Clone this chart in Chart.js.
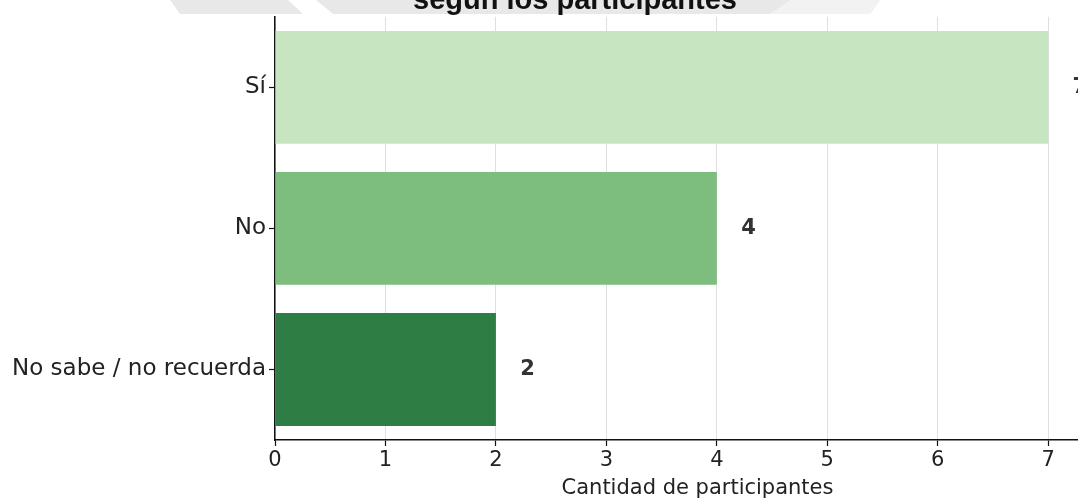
<!DOCTYPE html>
<html lang="es">
<head>
<meta charset="utf-8">
<title>Cantidad de participantes</title>
<script src="https://cdn.jsdelivr.net/npm/chart.js@4.4.1/dist/chart.umd.min.js"></script>
<style>
  html, body { margin: 0; padding: 0; background: #fff; overflow: hidden; }
  #chart { display: block; }
</style>
</head>
<body>
<canvas id="chart" width="1120" height="502"></canvas>
<script>
// Respuestas y cantidad de participantes
const categories = ['Sí', 'No', 'No sabe / no recuerda'];
const counts = [7, 4, 2];
const barColors = ['#c8e5c2', '#7dbd7e', '#2e7d44'];
const titleText = 'según los participantes';
const xTitle = 'Cantidad de participantes';

const FONT = "'DejaVu Sans', sans-serif";

// faint band behind the title
const bandPlugin = {
    id: 'band',
    beforeDraw(chart) {
        const ctx = chart.ctx;
        ctx.save();
        ctx.fillStyle = '#e8e8e8';
        ctx.beginPath();
        ctx.moveTo(170, 0); ctx.lineTo(880, 0); ctx.lineTo(870, 14); ctx.lineTo(180, 14);
        ctx.closePath();
        ctx.fill();
        // white diagonal gap
        ctx.fillStyle = '#ffffff';
        ctx.beginPath();
        ctx.moveTo(288, 0); ctx.lineTo(316, 0); ctx.lineTo(333, 14); ctx.lineTo(303, 14);
        ctx.closePath();
        ctx.fill();
        ctx.fillStyle = '#f2f2f2';
        ctx.beginPath();
        ctx.moveTo(790, 0); ctx.lineTo(880, 0); ctx.lineTo(870, 14); ctx.lineTo(770, 14);
        ctx.closePath();
        ctx.fill();
        ctx.restore();
    },
    afterDraw(chart) {
        const ctx = chart.ctx;
        ctx.save();
        ctx.font = "bold 29px 'Liberation Sans', Arial, sans-serif";
        ctx.fillStyle = '#111';
        ctx.textAlign = 'center';
        ctx.textBaseline = 'alphabetic';
        ctx.fillText(titleText, 575, 9);
        ctx.restore();
    }
};

// value written to the right of each bar
const valueLabels = {
    id: 'valueLabels',
    afterDatasetsDraw(chart) {
        const ctx = chart.ctx;
        const xScale = chart.scales.x;
        const meta = chart.getDatasetMeta(0);
        ctx.save();
        ctx.font = 'bold 21px ' + FONT;
        ctx.fillStyle = '#333';
        ctx.textAlign = 'left';
        ctx.textBaseline = 'middle';
        meta.data.forEach((bar, i) => {
            const x = xScale.getPixelForValue(counts[i] + 0.22);
            ctx.fillText(String(counts[i]), x, bar.y);
        });
        ctx.restore();
    }
};

new Chart(document.getElementById('chart'), {
    type: 'bar',
    data: {
        labels: categories,
        datasets: [{
            data: counts,
            backgroundColor: barColors,
            borderWidth: 0,
            barPercentage: 0.8,
            categoryPercentage: 1.0
        }]
    },
    options: {
        indexAxis: 'y',
        responsive: false,
        animation: false,
        layout: { padding: { top: 14, left: 0, right: 0, bottom: 0 } },
        plugins: {
            legend: { display: false },
            tooltip: { enabled: false }
        },
        scales: {
            x: {
                min: 0,
                max: 7.65,
                z: 1,
                afterFit(scale) { scale.height = 62; },
                ticks: {
                    stepSize: 1,
                    includeBounds: false,
                    color: '#222',
                    padding: 2,
                    font: { family: FONT, size: 21 }
                },
                grid: {
                    color: 'rgba(185,185,185,0.45)',
                    lineWidth: 1,
                    drawTicks: true,
                    tickLength: 6,
                    tickColor: '#111',
                    tickWidth: 1.2
                },
                border: { color: '#111', width: 1.5 },
                title: {
                    display: true,
                    text: xTitle,
                    color: '#222',
                    font: { family: FONT, size: 21 },
                    padding: { top: 2, bottom: 1 }
                }
            },
            y: {
                afterFit(scale) { scale.width = 275; },
                ticks: {
                    color: '#222',
                    padding: 3,
                    font: { family: FONT, size: 23 }
                },
                grid: {
                    offset: false,
                    drawOnChartArea: false,
                    drawTicks: true,
                    tickLength: 6,
                    tickColor: '#111',
                    tickWidth: 1.2
                },
                border: { color: '#111', width: 1.5 }
            }
        }
    },
    plugins: [bandPlugin, valueLabels]
});
</script>
</body>
</html>
